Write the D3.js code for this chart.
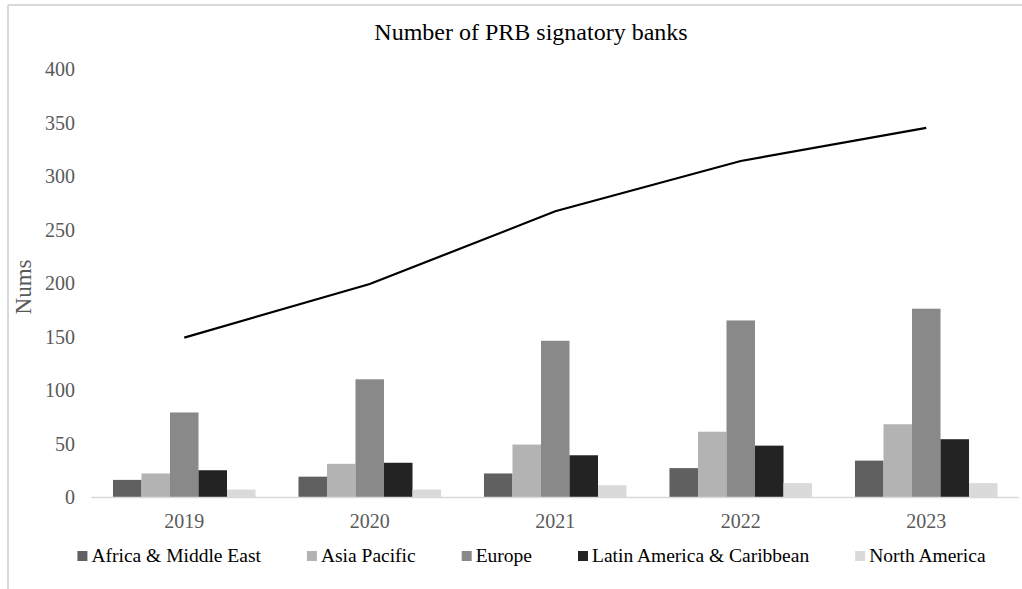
<!DOCTYPE html>
<html lang="en">
<head>
  <meta charset="UTF-8" />
  <title>Number of PRB signatory banks</title>
  <script src="https://d3js.org/d3.v7.min.js"></script>
  <style>
    * { margin: 0; padding: 0; box-sizing: border-box; }
    body { background: #fff; }
    svg { display: block; font-family: 'Liberation Serif', 'Times New Roman', serif; }
  </style>
</head>
<body>
  <svg id="chart" width="1022" height="589"></svg>

  <script>
    const years = ['2019', '2020', '2021', '2022', '2023'];
    const regions = ['Africa & Middle East', 'Asia Pacific', 'Europe', 'Latin America & Caribbean', 'North America'];
    const africa = [16, 19, 22, 27, 34];
    const asia = [22, 31, 49, 61, 68];
    const europe = [79, 110, 146, 165, 176];
    const latam = [25, 32, 39, 48, 54];
    const northAm = [7, 7, 11, 13, 13];
    const totals = [149, 199, 267, 314, 345];
    const yTicks = [0, 50, 100, 150, 200, 250, 300, 350, 400];

    const colors = ['#606060', '#b3b3b3', '#898989', '#232323', '#dadada'];
    const series = [africa, asia, europe, latam, northAm];

    const svg = d3.select('#chart');
    const W = 1022, H = 589;
    const m = { left: 91.5, right: 1019, top: 69, bottom: 497 };

    // frame (only top and left edges visible in the crop)
    svg.append('line').attr('x1', 8).attr('x2', W).attr('y1', 5).attr('y2', 5)
      .attr('stroke', '#d9d9d9').attr('stroke-width', 2);
    svg.append('line').attr('x1', 8).attr('x2', 8).attr('y1', 5).attr('y2', H)
      .attr('stroke', '#d9d9d9').attr('stroke-width', 2);

    const x = d3.scaleBand().domain(years).range([m.left, m.right])
      .paddingInner(0.2315).paddingOuter(0.11575);
    const xs = d3.scaleBand().domain(regions).range([0, x.bandwidth()]);
    const y = d3.scaleLinear().domain([0, 400]).range([m.bottom, m.top]);

    // title
    svg.append('text').attr('x', 531).attr('y', 40).attr('text-anchor', 'middle')
      .attr('font-size', 24).attr('fill', '#000').text('Number of PRB signatory banks');

    // y tick labels
    svg.append('g').selectAll('text').data(yTicks).join('text')
      .attr('x', 75).attr('y', d => y(d)).attr('dy', '0.35em')
      .attr('text-anchor', 'end').attr('font-size', 20).attr('fill', '#595959')
      .text(d => d);

    // y title
    svg.append('text').attr('transform', 'translate(31,287) rotate(-90)')
      .attr('text-anchor', 'middle').attr('font-size', 23).attr('fill', '#595959')
      .text('Nums');

    // bars
    const groups = svg.append('g').selectAll('g').data(years).join('g')
      .attr('transform', d => `translate(${x(d)},0)`);
    groups.selectAll('rect')
      .data((yr, i) => regions.map((r, k) => ({ r, k, v: series[k][i] })))
      .join('rect')
      .attr('x', d => xs(d.r))
      .attr('y', d => y(d.v))
      .attr('width', xs.bandwidth())
      .attr('height', d => y(0) - y(d.v))
      .attr('fill', d => colors[d.k]);

    // x axis line
    svg.append('line').attr('x1', m.left).attr('x2', m.right)
      .attr('y1', y(0) + 0.5).attr('y2', y(0) + 0.5)
      .attr('stroke', '#d9d9d9').attr('stroke-width', 1.5);

    // year labels
    svg.append('g').selectAll('text').data(years).join('text')
      .attr('x', d => x(d) + x.bandwidth() / 2).attr('y', 528)
      .attr('text-anchor', 'middle').attr('font-size', 20).attr('fill', '#595959')
      .text(d => d);

    // total line
    const line = d3.line().x((d, i) => x(years[i]) + x.bandwidth() / 2).y(d => y(d));
    svg.append('path').datum(totals).attr('d', line)
      .attr('fill', 'none').attr('stroke', '#000').attr('stroke-width', 2.2);

    // legend
    const leg = svg.append('g');
    const items = leg.selectAll('g').data(regions).join('g');
    items.append('rect').attr('width', 10).attr('height', 10).attr('y', -11)
      .attr('fill', (d, i) => colors[i]);
    items.append('text').attr('x', 14).attr('font-size', 19.5).attr('fill', '#000')
      .text(d => d);
    let cx = 0;
    const gap = 46;
    items.each(function () {
      const g = d3.select(this);
      const w = 14 + g.select('text').node().getComputedTextLength();
      g.attr('transform', `translate(${cx},0)`);
      cx += w + gap;
    });
    const total = cx - gap;
    leg.attr('transform', `translate(${531.5 - total / 2},562)`);
  </script>
</body>
</html>
